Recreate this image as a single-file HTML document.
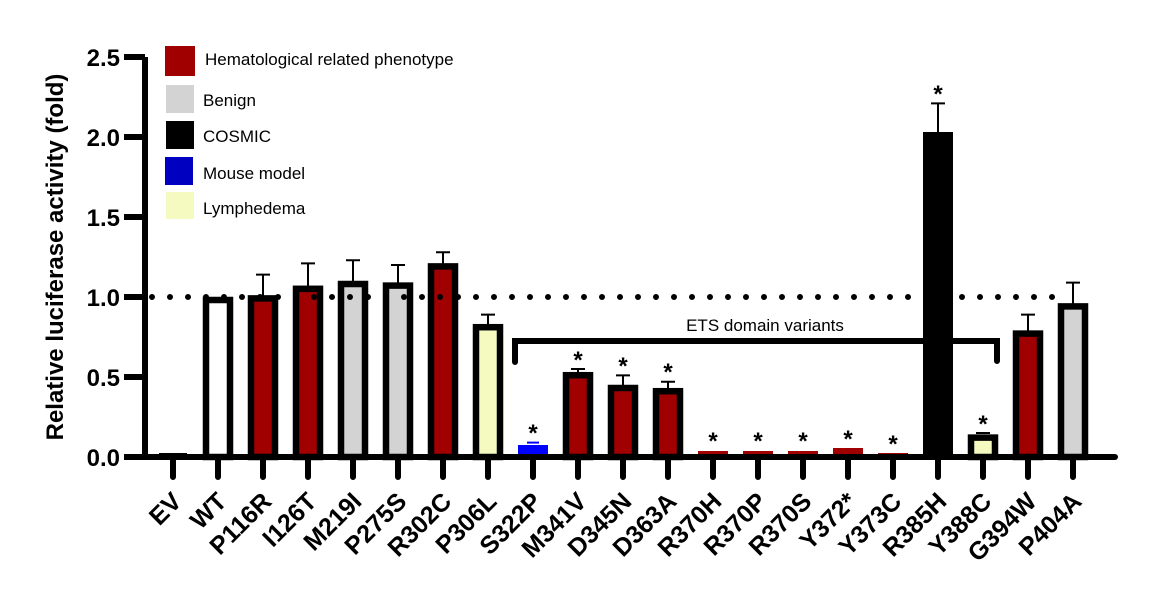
<!DOCTYPE html>
<html><head><style>body{margin:0;background:#fff}svg{display:block}</style></head><body>
<svg width="1152" height="603" xmlns="http://www.w3.org/2000/svg" font-family="Liberation Sans, sans-serif">
<!-- error bars -->
<g stroke="#000" stroke-width="2">
<path d="M263,298V274.6M256,274.6H270"/>
<path d="M308,289V263.4M301,263.4H315"/>
<path d="M353,284V260.2M346,260.2H360"/>
<path d="M398,286V265M391,265H405"/>
<path d="M443,266V252.2M436,252.2H450"/>
<path d="M488,327V314.6M481,314.6H495"/>
<path d="M527,442.6H539" stroke="#0000ff"/>
<path d="M578,375V369M571,369H585"/>
<path d="M623,388V375.4M616,375.4H630"/>
<path d="M668,391V381.8M661,381.8H675"/>
<path d="M938,132V103.4M931,103.4H945"/>
<path d="M976,433H990"/>
<path d="M1028,334V314.6M1021,314.6H1035"/>
<path d="M1073,306V282.6M1066,282.6H1080"/>
</g>
<!-- bars -->
<g stroke="#000" stroke-width="6.5">
<rect x="206" y="300" width="24" height="157" fill="#fff"/>
<rect x="251" y="298.4" width="24" height="158.6" fill="#a00000"/>
<rect x="296" y="288.8" width="24" height="168.2" fill="#a00000"/>
<rect x="341" y="284" width="24" height="173" fill="#d3d3d3"/>
<rect x="386" y="285.6" width="24" height="171.4" fill="#d3d3d3"/>
<rect x="431" y="266.4" width="24" height="190.6" fill="#a00000"/>
<rect x="476" y="327.2" width="24" height="129.8" fill="#f5fac0"/>
<rect x="566" y="375.2" width="24" height="81.8" fill="#a00000"/>
<rect x="611" y="388" width="24" height="69" fill="#a00000"/>
<rect x="656" y="391.2" width="24" height="65.8" fill="#a00000"/>
<rect x="971" y="437.6" width="24" height="19.4" fill="#f5fac0"/>
<rect x="1016" y="333.6" width="24" height="123.4" fill="#a00000"/>
<rect x="1061" y="306.4" width="24" height="150.6" fill="#d3d3d3"/>
</g>
<rect x="159" y="453" width="28" height="4" fill="#000"/>
<rect x="518" y="445" width="30" height="12" fill="#0000ff"/>
<rect x="698" y="451" width="30" height="6" fill="#a00000"/>
<rect x="743" y="451" width="30" height="6" fill="#a00000"/>
<rect x="788" y="451" width="30" height="6" fill="#a00000"/>
<rect x="833" y="448" width="30" height="9" fill="#a00000"/>
<rect x="878" y="453" width="30" height="4" fill="#a00000"/>
<rect x="923" y="132" width="30" height="325" fill="#000"/>
<!-- stars -->
<g font-size="24" font-weight="bold" text-anchor="middle">
<text x="533" y="441">*</text>
<text x="578" y="368">*</text>
<text x="623" y="374">*</text>
<text x="668" y="380">*</text>
<text x="713" y="449">*</text>
<text x="758" y="449">*</text>
<text x="803" y="449">*</text>
<text x="848" y="447">*</text>
<text x="893" y="452">*</text>
<text x="938" y="102">*</text>
<text x="983" y="432">*</text>
</g>
<!-- dotted line -->
<line x1="152" y1="297" x2="1070" y2="297" stroke="#000" stroke-width="6" stroke-linecap="round" stroke-dasharray="0 18"/>
<!-- axes -->
<line x1="145" y1="57" x2="145" y2="460" stroke="#000" stroke-width="6"/>
<line x1="142" y1="457" x2="1115" y2="457" stroke="#000" stroke-width="6" stroke-linecap="round"/>
<g stroke="#000" stroke-width="6">
<line x1="124" y1="57" x2="145" y2="57"/><line x1="124" y1="137" x2="145" y2="137"/><line x1="124" y1="217" x2="145" y2="217"/><line x1="124" y1="297" x2="145" y2="297"/><line x1="124" y1="377" x2="145" y2="377"/><line x1="124" y1="457" x2="145" y2="457"/>
</g>
<g stroke="#000" stroke-width="6" stroke-linecap="round">
<path d="M173,457V477M218,457V477M263,457V477M308,457V477M353,457V477M398,457V477M443,457V477M488,457V477M533,457V477M578,457V477M623,457V477M668,457V477M713,457V477M758,457V477M803,457V477M848,457V477M893,457V477M938,457V477M983,457V477M1028,457V477M1073,457V477"/>
</g>
<g font-size="25" font-weight="bold" text-anchor="end">
<text transform="translate(183,503) rotate(-45)">EV</text>
<text transform="translate(228,503) rotate(-45)">WT</text>
<text transform="translate(273,503) rotate(-45)">P116R</text>
<text transform="translate(318,503) rotate(-45)">I126T</text>
<text transform="translate(363,503) rotate(-45)">M219I</text>
<text transform="translate(408,503) rotate(-45)">P275S</text>
<text transform="translate(453,503) rotate(-45)">R302C</text>
<text transform="translate(498,503) rotate(-45)">P306L</text>
<text transform="translate(543,503) rotate(-45)">S322P</text>
<text transform="translate(588,503) rotate(-45)">M341V</text>
<text transform="translate(633,503) rotate(-45)">D345N</text>
<text transform="translate(678,503) rotate(-45)">D363A</text>
<text transform="translate(723,503) rotate(-45)">R370H</text>
<text transform="translate(768,503) rotate(-45)">R370P</text>
<text transform="translate(813,503) rotate(-45)">R370S</text>
<text transform="translate(858,503) rotate(-45)">Y372*</text>
<text transform="translate(903,503) rotate(-45)">Y373C</text>
<text transform="translate(948,503) rotate(-45)">R385H</text>
<text transform="translate(993,503) rotate(-45)">Y388C</text>
<text transform="translate(1038,503) rotate(-45)">G394W</text>
<text transform="translate(1083,503) rotate(-45)">P404A</text>
</g>
<g font-size="24" font-weight="bold" text-anchor="end">
<text x="120" y="66">2.5</text><text x="120" y="146">2.0</text><text x="120" y="226">1.5</text><text x="120" y="306">1.0</text><text x="120" y="386">0.5</text><text x="120" y="466">0.0</text>
</g>
<text transform="translate(63,257) rotate(-90)" text-anchor="middle" font-size="24" font-weight="bold">Relative luciferase activity (fold)</text>
<!-- ETS bracket -->
<path d="M515,362 V341 H997 V361" fill="none" stroke="#000" stroke-width="6" stroke-linecap="round"/>
<text x="765" y="331" font-size="17" text-anchor="middle">ETS domain variants</text>
<!-- legend -->
<rect x="165" y="46" width="30" height="30" fill="#a00000"/>
<rect x="166" y="85" width="28" height="28" fill="#d3d3d3"/>
<rect x="166" y="121" width="28" height="28" fill="#000"/>
<rect x="165" y="157" width="28" height="28" fill="#0000c0"/>
<rect x="166" y="192" width="28" height="27" fill="#f5fac0"/>
<g font-size="17">
<text x="205" y="65">Hematological related phenotype</text>
<text x="203" y="106">Benign</text>
<text x="203" y="142">COSMIC</text>
<text x="203" y="179">Mouse model</text>
<text x="203" y="214">Lymphedema</text>
</g>
</svg>
</body></html>
